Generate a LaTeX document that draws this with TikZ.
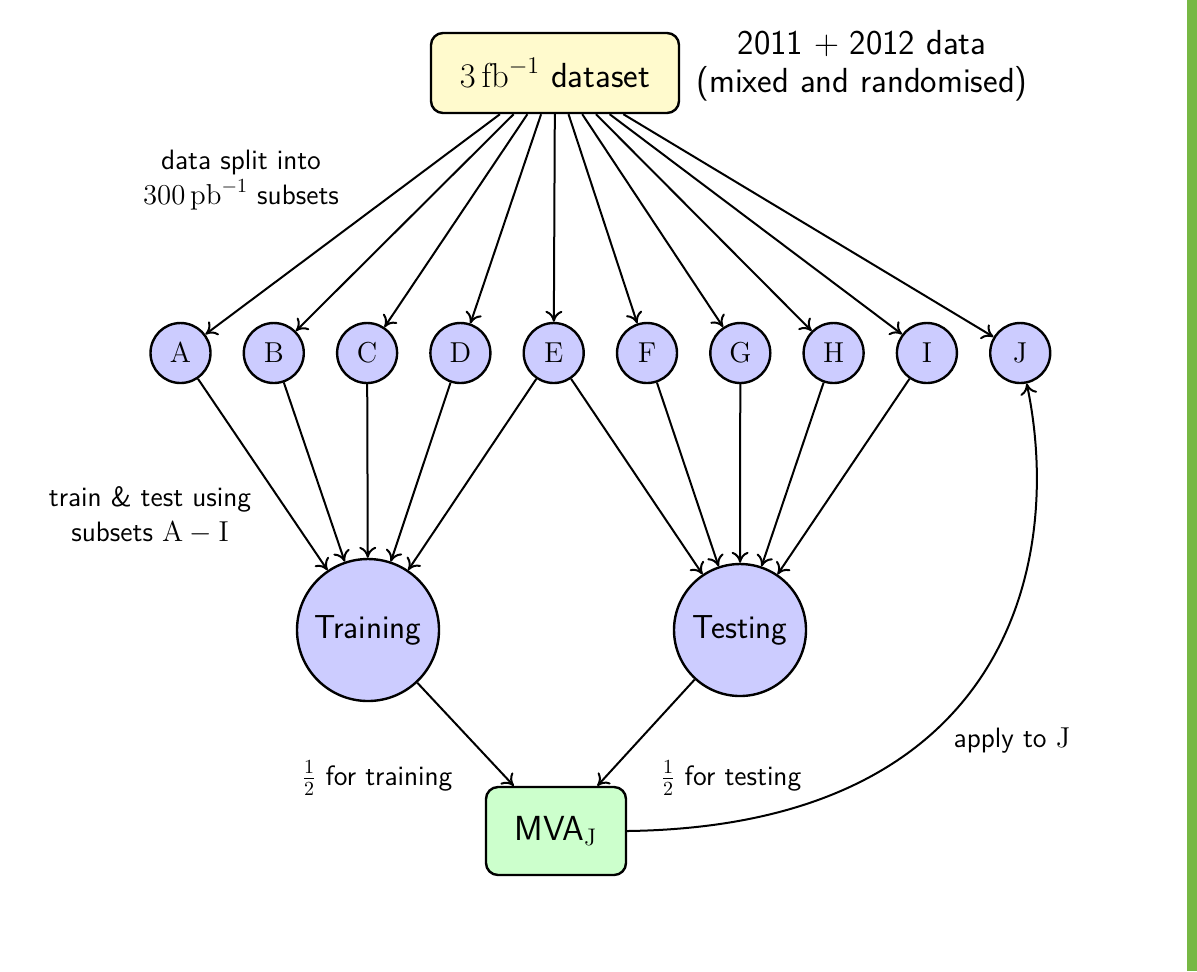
\documentclass[tikz,border=0pt]{standalone}
\usetikzlibrary{arrows.meta}
\definecolor{barGreen}{RGB}{119,184,68}
\definecolor{circFill}{RGB}{204,204,255}
\definecolor{dsFill}{RGB}{255,250,205}
\definecolor{mvaFill}{RGB}{204,255,204}
\newcommand\lblsz{\fontsize{14}{17.5}\selectfont}
\newcommand\bigsz{\fontsize{16.6}{19}\selectfont}
\newcommand\ltrsz{\fontsize{15}{18}\selectfont}
\newcommand\topsz{\fontsize{17.4}{19}\selectfont}
\tikzset{
  every node/.style={font=\sffamily},
  arr/.style={line width=1pt,-{Computer Modern Rightarrow[length=5.5pt,width=8.5pt]}},
  letter/.style={circle,draw,line width=1.2pt,fill=circFill,minimum size=30pt,inner sep=0pt,font=\ltrsz},
  bigcirc/.style={circle,draw,line width=1.2pt,fill=circFill,inner sep=0pt,font=\sffamily\bigsz},
  lbl/.style={align=center,font=\sffamily\lblsz},
}
\begin{document}
\begin{tikzpicture}[x=0.5pt,y=-0.5pt]
\useasboundingbox (0,0) rectangle (1197,971);
\fill[white] (0,0) rectangle (1197,971);
\fill[barGreen] (1187,0) rectangle (1197,971);

\node[draw,line width=1.2pt,rounded corners=6pt,fill=dsFill,minimum width=124pt,minimum height=40pt,font=\sffamily\topsz] (ds) at (555,73) {$3\,\mathrm{fb}^{-1}$ dataset};
\node[align=center,font=\sffamily\topsz] (note) at (862,66) {2011 $+$ 2012 data\\(mixed and randomised)};
\node[lbl] (split) at (241,180) {data split into\\$300\,\mathrm{pb}^{-1}$ subsets};

\foreach \n [count=\i from 0] in {A,B,C,D,E,F,G,H,I,J} {
  \node[letter] (\n) at ({180.5+93.3*\i},353) {$\mathrm{\n}$};
}

\node[bigcirc,minimum size=71pt] (train) at (368,630) {Training};
\node[bigcirc,minimum size=66pt] (test) at (740,630) {Testing};
\node[draw,line width=1.2pt,rounded corners=6pt,fill=mvaFill,minimum width=70pt,minimum height=44pt,font=\sffamily\topsz] (mva) at (556,831) {MVA$_\mathrm{J}$};

\node[lbl] (tt) at (150,515) {train \& test using\\subsets $\mathrm{A}-\mathrm{I}$};

\foreach \n in {A,B,C,D,E,F,G,H,I,J} {
  \draw[arr] (ds) -- (\n);
}
\foreach \n in {A,B,C,D,E} {
  \draw[arr] (\n) -- (train);
}
\foreach \n in {E,F,G,H,I} {
  \draw[arr] (\n) -- (test);
}
\draw[arr] (train) -- (mva);
\draw[arr] (test) -- (mva);
\node[lbl] (ltrain) at (377,778) {$\frac{1}{2}$ for training};
\node[lbl] (ltest) at (731,778) {$\frac{1}{2}$ for testing};
\draw[arr] (mva.east) .. controls (1010,826) and (1064,560) .. (J.-78);
\node[lbl] (lapply) at (1012,740) {apply to $\mathrm{J}$};
\end{tikzpicture}
\end{document}
